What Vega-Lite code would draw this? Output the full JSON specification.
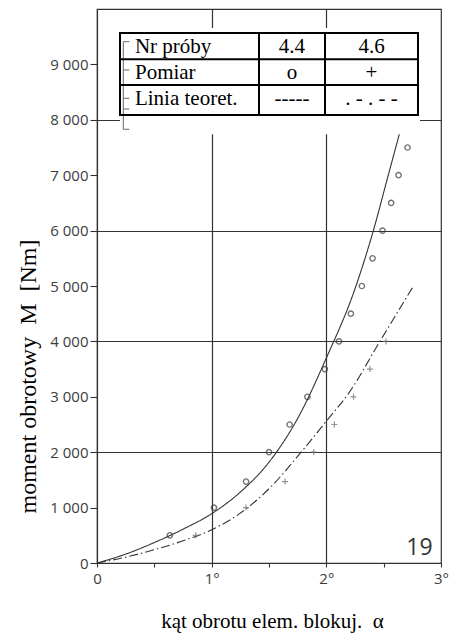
{
  "$schema": "https://vega.github.io/schema/vega-lite/v6.json",
  "width": 344,
  "height": 554,
  "autosize": {"type": "none"},
  "padding": {"left": 97, "top": 9, "right": 18, "bottom": 78},
  "background": "white",
  "config": {"view": {"stroke": "#333", "strokeWidth": 1.2}, "font": "Open Sans"},
  "datasets": {
    "curves": [
      {"s": "4.4", "x": 0, "y": 0}, {"s": "4.4", "x": 0.25, "y": 160}, {"s": "4.4", "x": 0.5, "y": 370},
      {"s": "4.4", "x": 0.75, "y": 610}, {"s": "4.4", "x": 1.0, "y": 890}, {"s": "4.4", "x": 1.25, "y": 1280},
      {"s": "4.4", "x": 1.5, "y": 1820}, {"s": "4.4", "x": 1.75, "y": 2610}, {"s": "4.4", "x": 2.0, "y": 3700},
      {"s": "4.4", "x": 2.25, "y": 4950}, {"s": "4.4", "x": 2.41, "y": 6000}, {"s": "4.4", "x": 2.54, "y": 7000},
      {"s": "4.4", "x": 2.643, "y": 7790},
      {"s": "4.6", "x": 0, "y": 0}, {"s": "4.6", "x": 0.25, "y": 105}, {"s": "4.6", "x": 0.5, "y": 240},
      {"s": "4.6", "x": 0.75, "y": 400}, {"s": "4.6", "x": 1.0, "y": 600}, {"s": "4.6", "x": 1.25, "y": 900},
      {"s": "4.6", "x": 1.5, "y": 1340}, {"s": "4.6", "x": 1.78, "y": 2000}, {"s": "4.6", "x": 2.0, "y": 2560},
      {"s": "4.6", "x": 2.2, "y": 3080}, {"s": "4.6", "x": 2.467, "y": 4000}, {"s": "4.6", "x": 2.757, "y": 4990}
    ],
    "circles": [
      {"x": 0.635, "y": 500}, {"x": 1.02, "y": 1000}, {"x": 1.30, "y": 1470}, {"x": 1.50, "y": 2000},
      {"x": 1.68, "y": 2500}, {"x": 1.835, "y": 3000}, {"x": 1.987, "y": 3500}, {"x": 2.11, "y": 4000},
      {"x": 2.214, "y": 4500}, {"x": 2.31, "y": 5000}, {"x": 2.403, "y": 5500}, {"x": 2.49, "y": 6000},
      {"x": 2.565, "y": 6500}, {"x": 2.63, "y": 7000}, {"x": 2.708, "y": 7500}
    ],
    "pluses": [
      {"x": 0.861, "y": 500}, {"x": 1.30, "y": 1000}, {"x": 1.64, "y": 1470}, {"x": 1.89, "y": 2000},
      {"x": 2.07, "y": 2500}, {"x": 2.237, "y": 3000}, {"x": 2.38, "y": 3500}, {"x": 2.52, "y": 4000}
    ],
    "white": [{"x": 0.2, "x2": 2.817, "y": 7740, "y2": 9657}],
    "tbox": [{"x": 0.2006, "x2": 2.7994, "y": 8087, "y2": 9567}],
    "tcols": [{"x": 1.4128, "y": 8087, "y2": 9567}, {"x": 1.9884, "y": 8087, "y2": 9567}],
    "trows": [{"y": 9092, "x": 0.2006, "x2": 2.7994}, {"y": 8628, "x": 0.2006, "x2": 2.7994}],
    "brkv": [{"x": 0.2294, "y": 7829, "y2": 9410}],
    "brkh": [
      {"x": 0.2294, "x2": 0.2817, "y": 9410}, {"x": 0.2294, "x2": 0.2817, "y": 8899},
      {"x": 0.2294, "x2": 0.2817, "y": 8388}, {"x": 0.2294, "x2": 0.2817, "y": 8195},
      {"x": 0.2294, "x2": 0.2817, "y": 7829}
    ],
    "tleft": [
      {"x": 0.331, "y": 9200, "t": "Nr próby"},
      {"x": 0.331, "y": 8736, "t": "Pomiar"},
      {"x": 0.331, "y": 8267, "t": "Linia teoret."}
    ],
    "tcenter": [
      {"x": 1.70, "y": 9200, "t": "4.4"}, {"x": 2.394, "y": 9200, "t": "4.6"},
      {"x": 1.70, "y": 8736, "t": "o"}, {"x": 2.394, "y": 8736, "t": "+"},
      {"x": 1.70, "y": 8267, "t": "-----"}, {"x": 2.394, "y": 8267, "t": ". - . - -"}
    ],
    "num": [{"x": 2.927, "y": 148, "t": "19"}]
  },
  "encoding": {
    "x": {
      "field": "x", "type": "quantitative",
      "scale": {"domain": [0, 3], "nice": false, "zero": false},
      "axis": {
        "values": [0, 0.5, 1, 1.5, 2, 2.5, 3],
        "labelExpr": "datum.value % 1 === 0 ? (datum.value === 0 ? '0' : datum.value + '°') : ''",
        "labelFlush": false, "labelOverlap": false,
        "labelFont": "Open Sans", "labelFontSize": 15, "labelColor": "#3c3c3c", "labelPadding": 4,
        "tickSize": 4, "tickColor": "#333", "tickWidth": 1.1,
        "domainColor": "#333", "domainWidth": 1.2,
        "grid": true, "gridColor": "#333", "gridWidth": 1.2,
        "gridOpacity": {"condition": {"test": "datum.value === 1 || datum.value === 2", "value": 1}, "value": 0},
        "title": "kąt obrotu elem. blokuj.\u00a0 α",
        "titleFont": "Liberation Serif", "titleFontSize": 21, "titleFontWeight": "normal", "titleColor": "#000",
        "titleX": 175, "titleY": 64, "titleAlign": "center", "titleBaseline": "alphabetic"
      }
    },
    "y": {
      "field": "y", "type": "quantitative",
      "scale": {"domain": [0, 10000], "nice": false},
      "axis": {
        "values": [0, 1000, 2000, 3000, 4000, 5000, 6000, 7000, 8000, 9000],
        "labelExpr": "replace(format(datum.value, ','), ',', ' ')",
        "labelFlush": false, "labelOverlap": false,
        "labelFont": "Open Sans", "labelFontSize": 15, "labelColor": "#3c3c3c", "labelPadding": 2,
        "tickSize": 7, "tickColor": "#333", "tickWidth": 1.1,
        "domainColor": "#333", "domainWidth": 1.2,
        "grid": true, "gridColor": "#333", "gridWidth": 1.2,
        "gridOpacity": {"condition": {"test": "datum.value % 2000 === 0 && datum.value > 0", "value": 1}, "value": 0},
        "title": "moment obrotowy\u00a0 M\u00a0 [Nm]",
        "titleFont": "Liberation Serif", "titleFontSize": 24, "titleFontWeight": "normal", "titleColor": "#000",
        "titleAngle": 270, "titleX": -62, "titleY": 367, "titleAlign": "center", "titleBaseline": "alphabetic"
      }
    }
  },
  "layer": [
    {
      "data": {"name": "curves"},
      "mark": {"type": "line", "interpolate": "monotone", "strokeWidth": 1.1, "color": "#333"},
      "encoding": {
        "strokeDash": {
          "field": "s", "type": "nominal",
          "scale": {"domain": ["4.4", "4.6"], "range": [[1, 0], [9, 3, 1.5, 3]]},
          "legend": null
        }
      }
    },
    {
      "data": {"name": "circles"},
      "mark": {"type": "point", "shape": "circle", "size": 28, "filled": false, "color": "#3a3a3a", "strokeWidth": 1.4}
    },
    {
      "data": {"name": "pluses"},
      "mark": {"type": "point", "shape": "M-1,0H1M0,-1V1", "size": 36, "filled": false, "color": "#666", "strokeWidth": 1.2}
    },
    {
      "data": {"name": "white"},
      "mark": {"type": "rect", "fill": "white"},
      "encoding": {"x2": {"field": "x2"}, "y2": {"field": "y2"}}
    },
    {
      "data": {"name": "brkv"},
      "mark": {"type": "rule", "color": "#666", "strokeWidth": 1},
      "encoding": {"y2": {"field": "y2"}}
    },
    {
      "data": {"name": "brkh"},
      "mark": {"type": "rule", "color": "#666", "strokeWidth": 1},
      "encoding": {"x2": {"field": "x2"}}
    },
    {
      "data": {"name": "tbox"},
      "mark": {"type": "rect", "fill": null, "fillOpacity": 0, "stroke": "black", "strokeWidth": 2},
      "encoding": {"x2": {"field": "x2"}, "y2": {"field": "y2"}}
    },
    {
      "data": {"name": "tcols"},
      "mark": {"type": "rule", "color": "black", "strokeWidth": 2},
      "encoding": {"y2": {"field": "y2"}}
    },
    {
      "data": {"name": "trows"},
      "mark": {"type": "rule", "color": "black", "strokeWidth": 2},
      "encoding": {"x2": {"field": "x2"}}
    },
    {
      "data": {"name": "tleft"},
      "mark": {"type": "text", "font": "Liberation Serif", "fontSize": 21, "align": "left", "baseline": "alphabetic", "color": "black"},
      "encoding": {"text": {"field": "t"}}
    },
    {
      "data": {"name": "tcenter"},
      "mark": {"type": "text", "font": "Liberation Serif", "fontSize": 21, "align": "center", "baseline": "alphabetic", "color": "black"},
      "encoding": {"text": {"field": "t"}}
    },
    {
      "data": {"name": "num"},
      "mark": {"type": "text", "font": "Open Sans", "fontSize": 23, "align": "right", "baseline": "alphabetic", "color": "#333"},
      "encoding": {"text": {"field": "t"}}
    }
  ]
}
